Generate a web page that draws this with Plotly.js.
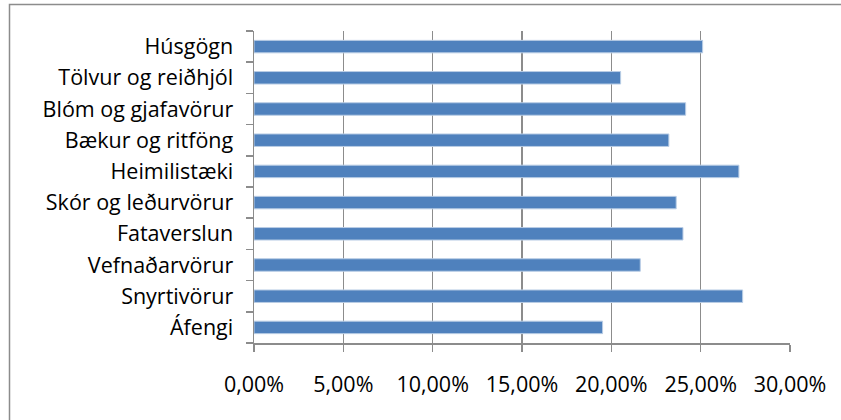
<!DOCTYPE html>
<html>
<head>
<meta charset="utf-8">
<script src="https://cdn.plot.ly/plotly-3.0.1.min.js"></script>
<style>html,body{margin:0;padding:0;background:#fff;}#chart{width:841px;height:420px;}</style>
</head>
<body>
<div id="chart"></div>
<script>
// Categories listed bottom to top, as drawn
const categories = [
  "Áfengi",
  "Snyrtivörur",
  "Vefnaðarvörur",
  "Fataverslun",
  "Skór og leðurvörur",
  "Heimilistæki",
  "Bækur og ritföng",
  "Blóm og gjafavörur",
  "Tölvur og reiðhjól",
  "Húsgögn"
];
const shares = [0.1951, 0.2735, 0.2162, 0.2401, 0.2363, 0.2714, 0.2322, 0.2416, 0.2052, 0.2511];
const tickValues = [0, 0.05, 0.10, 0.15, 0.20, 0.25, 0.30];

const plotL = 254, plotR = 790, plotT = 31, plotB = 343;
const W = 841, H = 420;
const pw = plotR - plotL, ph = plotB - plotT;
const px = v => (v - plotL) / pw;
const py = v => (plotB - v) / ph;

const font = "'Open Sans', 'Noto Sans', sans-serif";

const trace = {
  type: "bar",
  orientation: "h",
  y: categories,
  x: shares,
  width: 0.4,
  marker: { color: "#4F81BD", line: { color: "#B9CDE5", width: 1 } },
  hoverinfo: "none"
};

const layout = {
  width: W, height: H,
  margin: { l: plotL, r: W - plotR, t: plotT, b: H - plotB, pad: 0 },
  paper_bgcolor: "#ffffff",
  plot_bgcolor: "#ffffff",
  separators: ",.",
  showlegend: false,
  font: { family: font, size: 21, color: "#000000" },
  xaxis: {
    range: [0, 0.30],
    tickvals: tickValues,
    tickformat: ".2%",
    showgrid: true,
    gridcolor: "#8C8C8C",
    gridwidth: 1.5,
    zeroline: false,
    showline: true,
    linecolor: "#8C8C8C",
    linewidth: 1.5,
    ticks: "outside",
    ticklen: 7,
    tickcolor: "#8C8C8C",
    tickwidth: 1.5,
    ticklabelstandoff: 15,
    tickfont: { family: font, size: 21.5, color: "#000000" },
    fixedrange: true
  },
  yaxis: {
    type: "category",
    categoryorder: "array",
    categoryarray: categories,
    range: [-0.5, categories.length - 0.5],
    tickson: "boundaries",
    showgrid: false,
    zeroline: false,
    showline: true,
    linecolor: "#8C8C8C",
    linewidth: 1.5,
    ticks: "outside",
    ticklen: 7,
    tickcolor: "#8C8C8C",
    tickwidth: 1.5,
    ticklabelstandoff: 15,
    tickfont: { family: font, size: 21.5, color: "#000000" },
    fixedrange: true
  },
  shapes: [
    {
      type: "rect", xref: "paper", yref: "paper",
      x0: px(9.5), x1: px(W + 20), y0: py(H + 20), y1: py(4.5),
      line: { color: "#8C8C8C", width: 1.5 }, fillcolor: "rgba(0,0,0,0)",
      layer: "below"
    }
  ]
};

Plotly.newPlot("chart", [trace], layout, { displayModeBar: false, staticPlot: true });
</script>
</body>
</html>
